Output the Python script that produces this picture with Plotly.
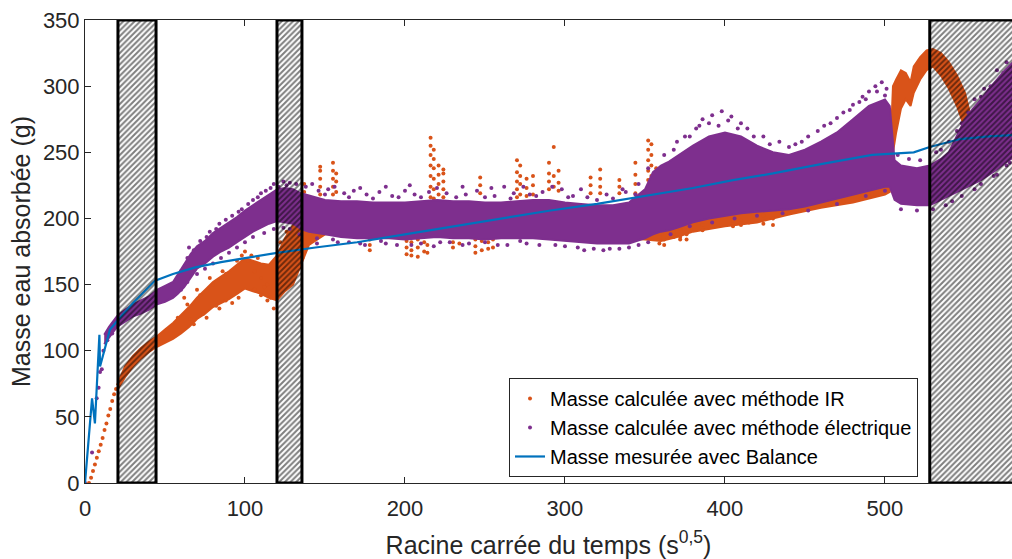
import plotly.graph_objects as go

# ---------------- data ----------------
# Balance (measured mass), g vs sqrt(time)
bal_x = [0, 4.4, 6.2, 9, 9.4, 15.6, 20.5, 30, 43.8, 55, 69, 85, 100, 120, 144, 170, 200,
         230, 260, 291, 320, 350, 380, 405, 430, 460, 492, 518, 528, 547, 565, 580]
bal_y = [0, 64, 45, 112, 88, 116, 123, 136, 153, 158, 163, 167, 170, 174, 178, 182, 188,
         194, 200, 206, 211, 217, 223, 229, 234, 241, 248, 250, 254, 260, 262, 263]

# IR method: dense core of the point cloud (lower / upper envelope)
ir_core_x = [20, 25, 30, 35, 40, 45, 50, 55, 60, 65, 70, 75, 80, 85, 90, 95, 100, 105, 110,
             115, 120, 125, 130, 135, 140, 150, 200, 250, 300, 350, 360, 370, 380, 400, 420,
             440, 460, 480, 500, 503, 505, 507, 510, 513, 516, 518, 522, 526, 530, 535, 540,
             545, 550, 553]
ir_core_lo = [70, 80, 88, 94, 99, 103, 106, 109, 113, 118, 124, 128, 133, 136, 139, 143, 147,
              145, 143, 140, 138, 145, 150, 165, 180, 188, 190, 190, 188, 184, 183, 186, 190,
              194, 197, 203, 208, 212, 218, 220, 250, 265, 283, 290, 285, 295, 305, 312, 315,
              308, 298, 285, 268, 258]
ir_core_hi = [74, 88, 96, 102, 107, 111, 116, 121, 127, 133, 140, 146, 152, 156, 160, 165, 170,
              168, 166, 165, 172, 185, 195, 205, 212, 210, 210, 210, 209, 208, 205, 208, 210,
              214, 217, 222, 226, 230, 234, 240, 300, 305, 312, 310, 303, 315, 322, 327, 328,
              325, 318, 308, 295, 280]

# IR method: individual points (start-up ramp, spikes, scattered values)
ir_pts_x = [2.5, 3.8, 5, 6.2, 7.4, 8.6, 9.8, 11, 12.2, 13.4, 14.6, 15.8, 17, 18.2, 19.4,
            62, 70, 78, 86, 95, 100, 104, 108, 112, 116, 118, 92, 84, 76, 68, 122, 126, 130, 132, 128,
            58, 64, 72, 80, 88, 98, 102, 106, 110, 114, 96, 88, 82, 74, 66, 120, 124, 110, 114, 106,
            137, 137, 137, 137, 137, 147, 147, 147, 147, 147, 155, 155, 155, 155, 155, 157, 157, 157,
            216, 216, 216, 216, 216, 216, 216, 218, 218, 218, 218, 218, 218, 221, 221, 221, 221,
            224, 224, 224, 224, 224, 247, 247, 247, 270, 270, 270, 270, 270, 272, 272, 272, 272,
            276, 276, 276, 280, 280, 280, 290, 290, 290, 290, 293, 293, 293, 296, 296, 296,
            316, 316, 316, 322, 322, 322, 322, 334, 334, 334, 344, 344, 344, 344,
            352, 352, 352, 352, 352, 354, 354, 354, 354, 357, 357,
            134, 134, 134, 134, 134, 136, 136, 136, 178, 178, 178, 201, 201, 201, 204, 204, 204,
            208, 208, 208, 212, 212, 214, 214, 230, 230, 230, 234, 234, 244, 244, 244, 248, 248,
            252, 252, 255, 255, 359, 359, 362, 362, 368, 368, 372, 372, 372, 376, 376, 386, 386,
            405, 405, 410, 410, 415, 424, 424, 430, 430, 440, 440, 447, 447, 458, 458, 466, 466,
            474, 474, 485, 485, 492, 492, 500, 500, 566, 570, 572]
ir_pts_y = [0, 4, 9, 14, 19, 24, 29, 34, 40, 45, 51, 56, 62, 67, 71,
            140, 146, 155, 160, 168, 175, 172, 170, 148, 140, 132, 136, 132, 125, 120, 182, 190, 200, 206, 178,
            125, 135, 142, 150, 158, 172, 168, 160, 155, 150, 140, 138, 134, 128, 124, 160, 170, 142, 138, 146,
            195, 205, 212, 220, 226, 218, 224, 230, 236, 239, 218, 224, 230, 236, 242, 220, 228, 234,
            216, 224, 232, 240, 248, 255, 261, 215, 222, 230, 238, 245, 252, 218, 226, 233, 240,
            216, 222, 228, 234, 237, 219, 225, 231, 216, 222, 228, 235, 244, 218, 226, 232, 240,
            217, 223, 230, 218, 225, 232, 222, 228, 234, 242, 254, 224, 232, 221, 227, 236,
            219, 225, 231, 219, 224, 230, 237, 219, 224, 229, 219, 226, 233, 242,
            229, 236, 244, 252, 259, 232, 240, 248, 256, 230, 238,
            190, 182, 175, 168, 163, 186, 178, 170, 184, 180, 176, 183, 178, 173, 182, 176, 172,
            184, 178, 171, 182, 175, 180, 174, 186, 182, 178, 187, 181, 184, 179, 174, 183, 176,
            182, 177, 184, 178, 186, 181, 184, 180, 190, 186, 192, 186, 184, 188, 184, 195, 191,
            198, 194, 199, 195, 197, 202, 196, 200, 195, 207, 204, 210, 206, 214, 210, 215, 211,
            217, 213, 219, 215, 222, 218, 226, 222, 278, 282, 262]

# Electrical method: dense core of the point cloud (lower / upper envelope)
el_core_x = [12, 15, 20, 25, 30, 35, 40, 45, 50, 55, 58, 62, 66, 70, 75, 80, 85, 90, 95, 100,
             105, 110, 115, 120, 125, 130, 135, 140, 150, 160, 170, 180, 190, 200, 210, 220, 230,
             240, 250, 260, 270, 280, 290, 300, 310, 320, 330, 340, 350, 355, 360, 365, 370, 380,
             390, 400, 410, 420, 430, 440, 450, 460, 470, 480, 490, 500, 503, 506, 510, 520, 528,
             535, 540, 545, 550, 555, 560, 565, 570, 575, 580]
el_core_lo = [105, 110, 118, 122, 126, 128, 131, 135, 137, 140, 143, 148, 155, 162, 166, 171,
              175, 178, 182, 186, 190, 193, 196, 198, 197, 196, 192, 190, 188, 186, 185, 185, 185,
              184, 185, 186, 185, 185, 184, 185, 185, 185, 184, 183, 182, 181, 181, 181, 185, 188,
              190, 191, 193, 197, 200, 202, 204, 205, 206, 207, 209, 212, 215, 218, 221, 224, 224,
              214, 211, 210, 210, 214, 217, 220, 223, 226, 229, 233, 237, 242, 246]
el_core_hi = [112, 118, 126, 131, 135, 138, 141, 146, 149, 152, 157, 165, 173, 179, 183, 189,
              193, 197, 201, 206, 210, 214, 218, 222, 223, 222, 219, 217, 214, 213, 213, 212, 212,
              212, 213, 214, 213, 213, 212, 212, 213, 214, 214, 212, 211, 210, 210, 212, 222, 235,
              240, 243, 247, 255, 262, 265, 262, 255, 250, 248, 252, 258, 265, 275, 285, 290, 285,
              244, 240, 238, 240, 245, 250, 262, 275, 283, 290, 298, 305, 312, 318]

# Electrical method: individual points (start-up and fringe of the cloud)
el_pts_x = [0, 4.4, 7.3, 8.5, 9.4, 10.5, 11.5, 14, 16, 17,
            65, 72, 78, 84, 88, 96, 102, 108, 113, 118, 124, 128, 138, 146, 152, 162, 168, 176,
            184, 192, 200, 206, 215, 226, 238, 245, 256, 262, 268, 278, 286, 298, 305, 314, 326,
            338, 346, 352, 362, 368, 375, 382, 386, 392, 398, 404, 410, 414, 424, 434, 444, 452,
            458, 466, 474, 480, 486, 490, 494, 498, 501, 508, 515, 522, 532, 540, 548, 556, 562,
            570, 576,
            60, 70, 80, 90, 100, 112, 124, 134, 145, 158, 172, 188, 204, 222, 240, 258, 276, 294,
            308, 318, 328, 340, 352, 366, 378, 392, 406, 420, 436, 452, 470, 488, 500, 510, 520,
            530, 542, 556, 570, 578,
            142, 150, 156, 165, 172, 180, 188, 196, 203, 210, 220, 232, 236, 250, 254, 266, 274,
            282, 292, 302, 310, 320, 330, 336, 344,
            145, 155, 165, 175, 185, 195, 210, 218, 228, 236, 250, 264, 272, 284, 300, 312, 324,
            334, 346,
            370, 378, 384, 390, 396, 402, 408, 418, 428, 440, 448, 462, 470, 478, 484, 488, 495, 500,
            60, 64, 68, 76, 82, 92, 98, 105, 110, 116, 121, 126, 132,
            64, 75, 85, 95, 105, 118, 128,
            535, 545, 552, 560, 566, 574, 538, 548, 560, 568, 576]
el_pts_y = [0, 23, 64, 72, 84, 86, 100, 108, 114, 113,
            178, 183, 190, 196, 199, 205, 211, 216, 221, 226, 228, 227, 224, 221, 222, 219, 221, 218,
            220, 217, 221, 218, 220, 219, 218, 221, 217, 224, 219, 218, 220, 222, 217, 216, 218,
            220, 226, 238, 248, 252, 262, 268, 275, 278, 281, 277, 272, 268, 262, 258, 256, 262,
            266, 272, 280, 286, 292, 296, 300, 303, 298, 248, 245, 244, 250, 258, 272, 290, 298,
            312, 318,
            146, 158, 166, 174, 182, 189, 193, 188, 185, 182, 181, 181, 180, 182, 181, 180, 181, 180,
            178, 177, 177, 178, 182, 188, 194, 197, 200, 202, 204, 206, 211, 217, 221, 207, 206,
            207, 213, 222, 233, 242,
            226, 218, 224, 216, 223, 215, 224, 216, 225, 216, 223, 216, 224, 216, 223, 215, 224,
            217, 224, 216, 222, 214, 215, 222, 218,
            181, 184, 182, 180, 183, 180, 181, 179, 182, 180, 182, 180, 183, 180, 179, 176, 176,
            177, 180,
            258, 262, 270, 272, 270, 274, 268, 262, 256, 254, 258, 270, 276, 282, 288, 290, 296, 293,
            160, 170, 176, 186, 192, 202, 207, 214, 219, 223, 224, 225, 226,
            152, 162, 170, 178, 186, 192, 192,
            252, 266, 280, 292, 300, 310, 210, 217, 226, 232, 240]

# Zones excluded from the analysis (hatched)
zone_x0 = [20.6, 120.0, 528.0]
zone_x1 = [44.4, 135.6, 600.0]
zone_ymax = 350

# ---------------- styles ----------------
C_IR = "#D95319"
C_EL = "#7E2F8E"
C_BAL = "#0072BD"
AX = "#262626"
FONT = "Liberation Sans, Arial, sans-serif"

fig = go.Figure()

# IR cloud
fig.add_trace(go.Scatter(
    x=ir_core_x + ir_core_x[::-1], y=ir_core_lo + ir_core_hi[::-1],
    fill="toself", fillcolor=C_IR, mode="lines", line=dict(color=C_IR, width=2),
    hoverinfo="skip", showlegend=False))
fig.add_trace(go.Scatter(
    x=ir_pts_x, y=ir_pts_y, mode="markers", name="Masse calculée avec méthode IR",
    marker=dict(color=C_IR, size=4)))

# Electrical cloud
fig.add_trace(go.Scatter(
    x=el_core_x + el_core_x[::-1], y=el_core_lo + el_core_hi[::-1],
    fill="toself", fillcolor=C_EL, mode="lines", line=dict(color=C_EL, width=2),
    hoverinfo="skip", showlegend=False))
fig.add_trace(go.Scatter(
    x=el_pts_x, y=el_pts_y, mode="markers", name="Masse calculée avec méthode électrique",
    marker=dict(color=C_EL, size=4)))

# Balance
fig.add_trace(go.Scatter(
    x=bal_x, y=bal_y, mode="lines", name="Masse mesurée avec Balance",
    line=dict(color=C_BAL, width=2.2)))

# Hatched zones on top of the data
for x0, x1 in zip(zone_x0, zone_x1):
    fig.add_trace(go.Scatter(
        x=[x0, x1, x1, x0, x0], y=[0, 0, zone_ymax, zone_ymax, 0],
        mode="lines", fill="toself", fillcolor="rgba(0,0,0,0)",
        fillpattern=dict(shape="/", fgcolor="black", bgcolor="rgba(0,0,0,0)",
                         size=4, solidity=0.5),
        line=dict(color="black", width=3), hoverinfo="skip", showlegend=False))

fig.update_layout(
    width=1012, height=559,
    margin=dict(l=85, r=0, t=20, b=76),
    paper_bgcolor="white", plot_bgcolor="white",
    font=dict(family=FONT, color=AX, size=22),
    showlegend=True,
    legend=dict(
        x=0.8986, y=0.1199, xanchor="right", yanchor="middle",
        bgcolor="white", bordercolor="#262626", borderwidth=1,
        font=dict(family=FONT, size=20, color="black"),
        tracegroupgap=0, itemwidth=30,
    ),
)

fig.update_xaxes(
    range=[0, 579.4], tickvals=[0, 100, 200, 300, 400, 500],
    ticks="inside", ticklen=6, tickcolor=AX, tickwidth=1,
    showline=True, linecolor=AX, linewidth=1, mirror="ticks",
    showgrid=False, zeroline=False, ticklabelstandoff=6,
    tickfont=dict(size=22, color=AX, family=FONT),
    title=dict(text="Racine carrée du temps (s<sup>0,5</sup>)",
               font=dict(size=25, color=AX, family=FONT), standoff=17),
)
fig.update_yaxes(
    range=[0, 350], tickvals=[0, 50, 100, 150, 200, 250, 300, 350],
    ticks="inside", ticklen=6, tickcolor=AX, tickwidth=1,
    showline=True, linecolor=AX, linewidth=1, mirror=False,
    showgrid=False, zeroline=False,
    tickfont=dict(size=22, color=AX, family=FONT),
    title=dict(text="Masse eau absorbée (g)",
               font=dict(size=25, color=AX, family=FONT), standoff=5),
)

fig.write_html("out.html")
